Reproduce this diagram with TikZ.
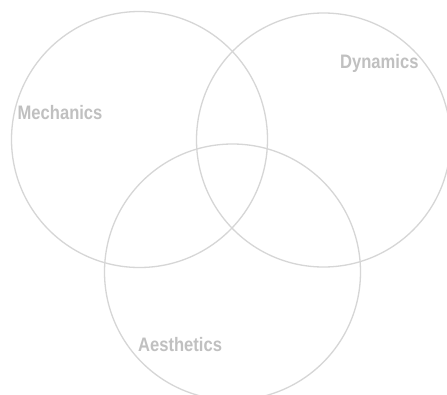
\documentclass[tikz,border=0pt]{standalone}
\usepackage{fontspec}
\setmainfont{Liberation Sans}
\definecolor{ringgray}{HTML}{D6D6D6}
\definecolor{labelgray}{HTML}{C0C0C0}
\begin{document}
\begin{tikzpicture}[x=1pt,y=-1pt,
  ring/.style={draw=ringgray,line width=1.3pt},
  lbl/.style={anchor=base west,inner sep=0pt,text=labelgray,font=\fontsize{19.5}{22}\selectfont\bfseries,xscale=0.85}]
\useasboundingbox[fill=white] (0,0) rectangle (447,394);
\begin{scope}
\clip (0,0) rectangle (447,394);
\draw[ring] (139.5,139.5) circle[radius=128];
\draw[ring] (323.5,140) circle[radius=127];
\draw[ring] (232.5,272) circle[radius=128];
\end{scope}
\node[lbl] (mech) at (17.5,119.3) {Mechanics};
\node[lbl] (dyn) at (340,68) {Dynamics};
\node[lbl] (aes) at (138,351.5) {Aesthetics};
\end{tikzpicture}
\end{document}
